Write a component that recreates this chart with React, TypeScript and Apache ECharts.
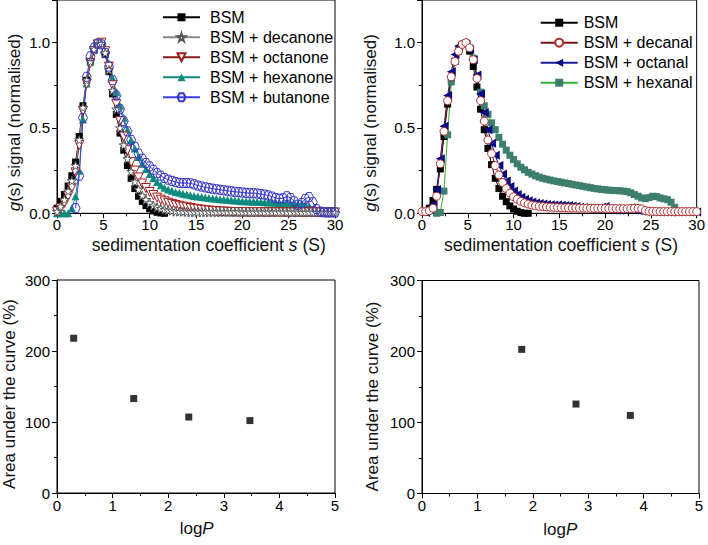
import React, { useEffect, useRef } from 'react';
import * as echarts from 'echarts';

// sedimentation coefficient grid (S)
const sX = [
  0, 0.4, 0.8, 1.2, 1.6, 2.0, 2.4, 2.8, 3.2, 3.6,
  4.0, 4.4, 4.8, 5.2, 5.6, 6.0, 6.4, 6.8, 7.2, 7.6,
  8.0, 8.4, 8.8, 9.2, 9.6, 10.0, 10.4, 10.8, 11.2, 11.6,
  12.0, 12.4, 12.8, 13.2, 13.6, 14.0, 14.4, 14.8, 15.2, 15.6,
  16.0, 16.4, 16.8, 17.2, 17.6, 18.0, 18.4, 18.8, 19.2, 19.6,
  20.0, 20.4, 20.8, 21.2, 21.6, 22.0, 22.4, 22.8, 23.2, 23.6,
  24.0, 24.4, 24.8, 25.2, 25.6, 26.0, 26.4, 26.8, 27.2, 27.6,
  28.0, 28.4, 28.8, 29.2, 29.6, 30.0,
];

// ---- left panel (ketones) ----
const bsmA = [
  0.03, 0.07, 0.11, 0.16, 0.22, 0.30, 0.45, 0.63, 0.78, 0.89,
  0.96, 0.995, 0.99, 0.93, 0.83, 0.70, 0.58, 0.47, 0.37, 0.28,
  0.205, 0.145, 0.10, 0.07, 0.045, 0.027, 0.014, 0.006, 0.002, 0,
];
const decanone = [
  0.01, 0.04, 0.08, 0.13, 0.19, 0.28, 0.43, 0.62, 0.78, 0.89,
  0.96, 0.995, 0.995, 0.94, 0.84, 0.72, 0.61, 0.50, 0.40, 0.32,
  0.245, 0.185, 0.14, 0.105, 0.08, 0.06, 0.046, 0.036, 0.028, 0.022,
  0.018, 0.015, 0.012, 0.010, 0.009, 0.008, 0.007, 0.007, 0.007, 0.007,
  0.007, 0.007, 0.007, 0.007, 0.007, 0.007, 0.007, 0.007, 0.007, 0.007,
  0.006, 0.006, 0.006, 0.006, 0.006, 0.006, 0.006, 0.006, 0.006, 0.006,
  0.006, 0.006, 0.006, 0.006, 0.006, 0.006, 0.005, 0.005, 0.005, 0.005,
  0.005, 0.005, 0.005, 0.005, 0.005, 0.005,
];
const octanone = [
  0.01, 0.03, 0.06, 0.10, 0.15, 0.24, 0.40, 0.60, 0.76, 0.88,
  0.95, 0.99, 1.0, 0.95, 0.86, 0.75, 0.64, 0.54, 0.45, 0.37,
  0.30, 0.25, 0.21, 0.175, 0.148, 0.125, 0.107, 0.092, 0.08, 0.07,
  0.062, 0.055, 0.049, 0.044, 0.039, 0.035, 0.031, 0.027, 0.024, 0.021,
  0.018, 0.016, 0.014, 0.012, 0.011, 0.01, 0.009, 0.008, 0.007, 0.007,
  0.007, 0.007, 0.006, 0.006, 0.006, 0.006, 0.006, 0.006, 0.006, 0.006,
  0.006, 0.005, 0.005, 0.005, 0.005, 0.005, 0.005, 0.005, 0.005, 0.005,
  0.005, 0.005, 0.005, 0.005, 0.005, 0.005,
];
const hexanone = [
  0, 0, 0, 0, 0.03, 0.10, 0.25, 0.55, 0.76, 0.89,
  0.96, 0.99, 1.0, 0.96, 0.88, 0.79, 0.71, 0.63, 0.56, 0.49,
  0.43, 0.38, 0.33, 0.29, 0.26, 0.23, 0.205, 0.183, 0.165, 0.15,
  0.14, 0.132, 0.125, 0.12, 0.115, 0.11, 0.106, 0.102, 0.099, 0.096,
  0.093, 0.09, 0.087, 0.085, 0.083, 0.081, 0.079, 0.077, 0.075, 0.073,
  0.071, 0.07, 0.069, 0.068, 0.067, 0.066, 0.065, 0.064, 0.063, 0.062,
  0.061, 0.06, 0.059, 0.058, 0.057, 0.055, 0.053, 0.05, 0.04, 0.02,
  0.006, 0.002,
];
const butanone = [
  null, null, null, null, null, 0.03, 0.22, 0.56, 0.80, 0.92,
  0.97, 0.995, 0.99, 0.94, 0.86, 0.78, 0.69, 0.61, 0.54, 0.48,
  0.43, 0.39, 0.35, 0.32, 0.295, 0.275, 0.255, 0.235, 0.22, 0.207,
  0.197, 0.19, 0.183, 0.178, 0.177, 0.178, 0.176, 0.17, 0.163, 0.157,
  0.152, 0.148, 0.144, 0.141, 0.138, 0.135, 0.132, 0.129, 0.126, 0.124,
  0.122, 0.12, 0.118, 0.118, 0.116, 0.113, 0.11, 0.105, 0.098, 0.09,
  0.085, 0.088, 0.1, 0.09, 0.07, 0.05, 0.06, 0.085, 0.095, 0.065,
  0.025, 0.01, 0.006, 0.005, 0.005, 0.005,
];

// ---- right panel (aldehydes) ----
const bsmB = [
  null, 0.005, 0.03, 0.075, 0.14, 0.26, 0.45, 0.64, 0.79, 0.89,
  0.95, 0.99, 0.995, 0.95, 0.86, 0.74, 0.61, 0.49, 0.38, 0.285,
  0.205, 0.145, 0.10, 0.068, 0.043, 0.025, 0.012, 0.004, 0.0, 0.0,
];
const decanal = [
  0.01, 0.01, 0.015, 0.03, 0.10, 0.29, 0.48, 0.66, 0.80, 0.89,
  0.95, 0.99, 1.0, 0.97, 0.90, 0.79, 0.66, 0.54, 0.43, 0.35,
  0.28, 0.225, 0.18, 0.145, 0.118, 0.097, 0.082, 0.07, 0.061, 0.054,
  0.048, 0.044, 0.041, 0.039, 0.037, 0.036, 0.035, 0.034, 0.033, 0.032,
  0.032, 0.031, 0.031, 0.03, 0.03, 0.03, 0.03, 0.029, 0.029, 0.029,
  0.028, 0.028, 0.028, 0.028, 0.027, 0.027, 0.027, 0.028, 0.029, 0.029,
  0.026, 0.016, 0.012, 0.011, 0.011, 0.01, 0.01, 0.01, 0.01, 0.01,
  0.01, 0.01, 0.01, 0.01, 0.01, 0.01,
];
const octanal = [
  null, 0.005, 0.02, 0.05, 0.14, 0.32, 0.51, 0.69, 0.83, 0.93,
  0.98, 1.0, 0.99, 0.96, 0.90, 0.81, 0.70, 0.59, 0.49, 0.41,
  0.34, 0.28, 0.23, 0.19, 0.157, 0.13, 0.11, 0.094, 0.082, 0.073,
  0.066, 0.061, 0.057, 0.054, 0.052, 0.05, 0.049, 0.048, 0.047, 0.046,
  0.045, 0.043, 0.04, 0.036, 0.032, 0.028, 0.025, 0.023, 0.025, 0.035,
  0.04, 0.03, 0.02, 0.018, 0.018, 0.02, 0.03, 0.033, 0.02, 0.015,
  0.012, 0.01, 0.009, 0.008, 0.008, 0.008, 0.008, 0.008, 0.008, 0.008,
  0.008, 0.008, 0.008, 0.008, 0.008, 0.008,
];
const hexanal = [
  null, null, null, null, 0.0, 0.005, 0.13, 0.46, 0.77, 0.89,
  0.96, 0.99, 1.0, 0.97, 0.91, 0.80, 0.71, 0.63, 0.58, 0.53,
  0.49, 0.445, 0.405, 0.37, 0.34, 0.315, 0.29, 0.27, 0.255, 0.24,
  0.23, 0.22, 0.212, 0.205, 0.2, 0.195, 0.19, 0.186, 0.182, 0.178,
  0.174, 0.17, 0.166, 0.162, 0.158, 0.154, 0.15, 0.146, 0.143, 0.14,
  0.138, 0.136, 0.134, 0.133, 0.132, 0.13, 0.127, 0.12, 0.11, 0.10,
  0.09, 0.086, 0.092, 0.1, 0.098, 0.09, 0.085, 0.08, 0.065, 0.035,
  0.01,
];

// ---- bottom panels ----
const logP1 = [0.3, 1.38, 2.37, 3.47];
const auc1 = [218, 133, 107, 102];
const logP2 = [1.8, 2.78, 3.76];
const auc2 = [203, 126, 110];

const legendA = ['BSM', 'BSM + decanone', 'BSM + octanone', 'BSM + hexanone', 'BSM + butanone'];
const legendB = ['BSM', 'BSM + decanal', 'BSM + octanal', 'BSM + hexanal'];

const FONT = "'Liberation Sans', Arial, sans-serif";
const STAR = 'path://M50,2 L61,37 L98,37 L68,59 L79,95 L50,73 L21,95 L32,59 L2,37 L39,37 Z';
const HEX = 'path://M0,50 L25,7 L75,7 L100,50 L75,93 L25,93 Z';

function pairs(xs: number[], ys: (number | null)[]) {
  const out: number[][] = [];
  ys.forEach((y, i) => {
    if (y !== null) out.push([xs[i], y]);
  });
  return out;
}

const axLine = { show: true, onZero: false, lineStyle: { color: '#000', width: 1 } };
const tickStyle = { color: '#000', width: 1 };
const labelStyle = { fontSize: 15, lineHeight: 14, color: '#000', fontFamily: FONT };

function xTop(gridIndex: number) {
  return {
    type: 'value', gridIndex, min: 0, max: 30, interval: 5,
    axisLine: axLine,
    axisTick: { show: true, length: 5, lineStyle: tickStyle },
    minorTick: { show: true, splitNumber: 2, length: 3, lineStyle: tickStyle },
    splitLine: { show: false },
    axisLabel: { ...labelStyle, margin: 4 },
  };
}
function yTop(gridIndex: number) {
  return {
    type: 'value', gridIndex, min: 0, max: 1.25, interval: 0.5, position: 'left',
    axisLine: axLine,
    axisTick: { show: true, length: 5, lineStyle: tickStyle },
    splitLine: { show: false },
    axisLabel: {
      ...labelStyle, margin: 7,
      formatter: (v: number) => (Math.abs(v * 2 - Math.round(v * 2)) < 1e-6 ? v.toFixed(1) : ''),
    },
  };
}
function yTopMinor(gridIndex: number) {
  return {
    type: 'value', gridIndex, min: 0, max: 1.25, interval: 0.25, position: 'left',
    axisLine: { show: false },
    axisTick: { show: true, length: 3, lineStyle: tickStyle },
    splitLine: { show: false },
    axisLabel: { show: false },
  };
}
function xBot(gridIndex: number) {
  return {
    type: 'value', gridIndex, min: 0, max: 5, interval: 1,
    axisLine: axLine,
    axisTick: { show: true, length: 5, lineStyle: tickStyle },
    minorTick: { show: true, splitNumber: 2, length: 3, lineStyle: tickStyle },
    splitLine: { show: false },
    axisLabel: { ...labelStyle, margin: 5 },
  };
}
function yBot(gridIndex: number) {
  return {
    type: 'value', gridIndex, min: 0, max: 300, interval: 100, position: 'left',
    axisLine: axLine,
    axisTick: { show: true, length: 5, lineStyle: tickStyle },
    minorTick: { show: true, splitNumber: 2, length: 3, lineStyle: tickStyle },
    splitLine: { show: false },
    axisLabel: { ...labelStyle, margin: 7 },
  };
}

function lineSeries(name: string, xi: number, yi: number, data: number[][], symbol: string, size: number,
  item: any, lineColor: string, rotate = 0) {
  return {
    type: 'line', name, xAxisIndex: xi, yAxisIndex: yi, data,
    symbol, symbolSize: size, symbolRotate: rotate, showSymbol: true, showAllSymbol: true,
    itemStyle: item, lineStyle: { color: lineColor, width: 1 },
    emphasis: { disabled: true },
  };
}

function title(text: string, x: number, y: number, size: number, vertical: boolean) {
  return {
    type: 'text', x, y, rotation: vertical ? Math.PI / 2 : 0, silent: true,
    style: {
      text, fontSize: size, lineHeight: size, fontFamily: FONT, fill: '#111', align: 'center', verticalAlign: 'middle',
      rich: { i: { fontSize: size, lineHeight: size, fontFamily: FONT, fill: '#111', fontStyle: 'italic' } },
    },
  };
}

const gridBase = { show: true, borderColor: '#000', borderWidth: 1, backgroundColor: 'transparent', containLabel: false };

const option: any = {
  animation: false,
  backgroundColor: '#fff',
  textStyle: { fontFamily: FONT },
  grid: [
    { ...gridBase, left: 57, top: -8.3, width: 278, height: 221.6 },
    { ...gridBase, left: 422, top: -8.3, width: 277, height: 221.6 },
    { ...gridBase, left: 57, top: 280, width: 278, height: 213 },
    { ...gridBase, left: 422, top: 280.5, width: 277, height: 213 },
  ],
  xAxis: [xTop(0), xTop(1), xBot(2), xBot(3)],
  yAxis: [yTop(0), yTop(1), yBot(2), yBot(3), yTopMinor(0), yTopMinor(1)],
  legend: [
    {
      data: legendA, orient: 'vertical', left: 162, top: 9.3, padding: 0,
      itemWidth: 37, itemHeight: 10, itemGap: 4, selectedMode: false,
      textStyle: { fontSize: 16, color: '#000', fontFamily: FONT, lineHeight: 16, padding: [0, 0, 0, 5] },
    },
    {
      data: legendB, orient: 'vertical', left: 539.7, top: 14.7, padding: 0,
      itemWidth: 37, itemHeight: 10, itemGap: 4, selectedMode: false,
      textStyle: { fontSize: 16, color: '#000', fontFamily: FONT, lineHeight: 16, padding: [0, 0, 0, 1] },
    },
  ],
  graphic: [
    title('sedimentation coefficient {i|s} (S)', 208.7, 244.5, 17.5, false),
    title('sedimentation coefficient {i|s} (S)', 561, 244.5, 17.5, false),
    title('log{i|P}', 196.7, 528, 17, false),
    title('log{i|P}', 560.3, 529, 17, false),
    title('{i|g}(s) signal (normalised)', 14, 122.5, 17, true),
    title('{i|g}(s) signal (normalised)', 370, 123, 17, true),
    title('Area under the curve (%)', 9.5, 394, 17, true),
    title('Area under the curve (%)', 372.7, 396.5, 17, true),
  ],
  series: [
    // left panel
    lineSeries('BSM', 0, 0, pairs(sX, bsmA), 'rect', 7, { color: '#000' }, '#000'),
    lineSeries('BSM + hexanone', 0, 0, pairs(sX, hexanone), 'triangle', 8, { color: '#0f8a7e' }, '#0f8a7e'),
    lineSeries('BSM + octanone', 0, 0, pairs(sX, octanone), 'triangle', 9,
      { color: '#fff', borderColor: '#a01c1c', borderWidth: 1 }, '#8b1a1a', 180),
    lineSeries('BSM + decanone', 0, 0, pairs(sX, decanone), STAR, 9,
      { color: '#fff', borderColor: '#555', borderWidth: 1 }, '#888'),
    lineSeries('BSM + butanone', 0, 0, pairs(sX, butanone), HEX, 9,
      { color: 'rgba(255,255,255,0)', borderColor: '#3535c8', borderWidth: 1 }, '#3b3bf0'),
    // right panel
    lineSeries('BSM', 1, 1, pairs(sX, bsmB), 'rect', 7, { color: '#000' }, '#000'),
    lineSeries('BSM + hexanal', 1, 1, pairs(sX, hexanal), 'rect', 7, { color: '#3d7f6c' }, '#35b035'),
    lineSeries('BSM + octanal', 1, 1, pairs(sX, octanal), 'triangle', 9, { color: '#0a0a85' }, '#1a1a99', 90),
    lineSeries('BSM + decanal', 1, 1, pairs(sX, decanal), 'circle', 8,
      { color: '#fff', borderColor: '#b03030', borderWidth: 1 }, '#7a1515'),
    // bottom panels
    {
      type: 'scatter', name: 'AUC ketones', xAxisIndex: 2, yAxisIndex: 2,
      data: logP1.map((x, i) => [x, auc1[i]]),
      symbol: 'rect', symbolSize: 7, itemStyle: { color: '#000' }, emphasis: { disabled: true },
    },
    {
      type: 'scatter', name: 'AUC aldehydes', xAxisIndex: 3, yAxisIndex: 3,
      data: logP2.map((x, i) => [x, auc2[i]]),
      symbol: 'rect', symbolSize: 7, itemStyle: { color: '#000' }, emphasis: { disabled: true },
    },
  ],
};

export default function App() {
  const ref = useRef<HTMLDivElement>(null);
  useEffect(() => {
    if (!ref.current) return;
    const chart = echarts.init(ref.current, null, { renderer: 'svg' });
    chart.setOption(option);
    return () => chart.dispose();
  }, []);
  return (
    <div
      ref={ref}
      style={{ position: 'absolute', left: 0, top: 0, width: 708, height: 545, background: '#fff' }}
    />
  );
}
